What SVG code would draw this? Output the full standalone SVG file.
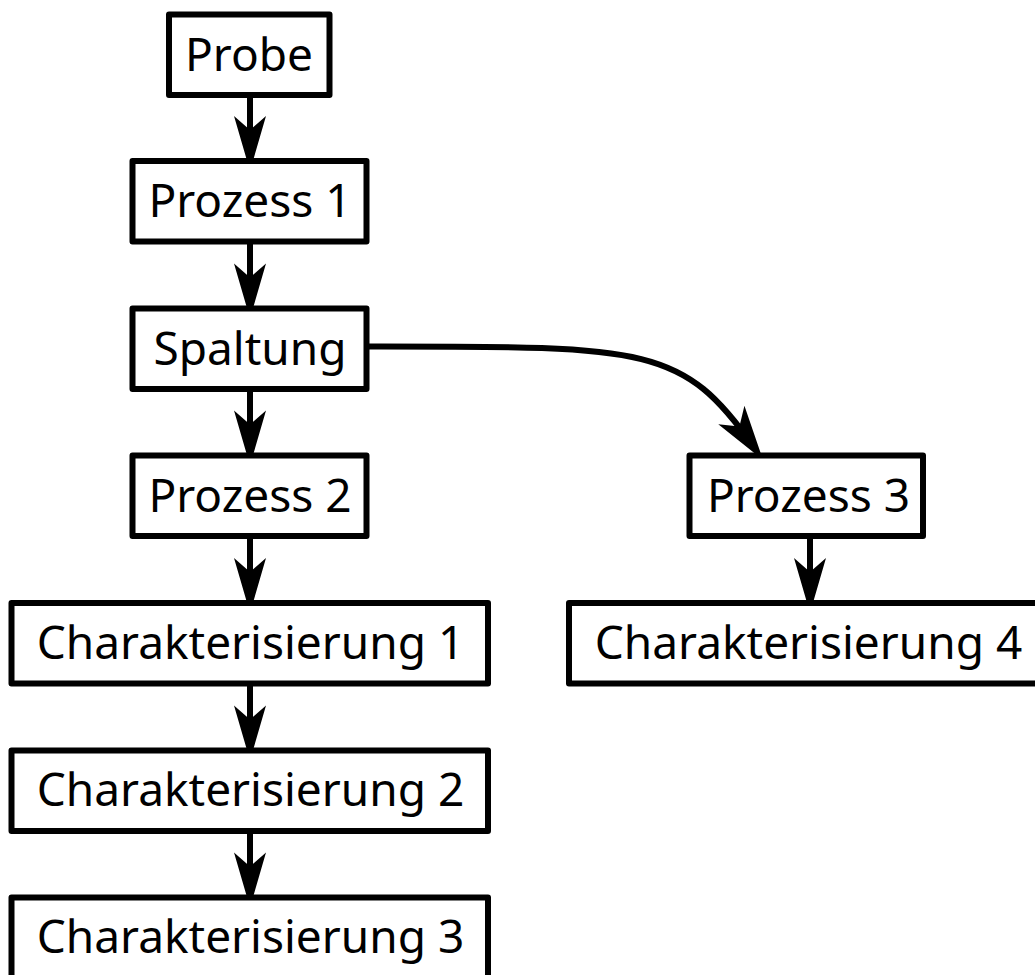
<svg xmlns="http://www.w3.org/2000/svg" width="1035" height="975" viewBox="0 0 1035 975">
<style>
.box{fill:#fff;stroke:#000;stroke-width:6;stroke-linejoin:round}
.lbl{font-family:"Noto Sans","Open Sans",sans-serif;font-size:46px;fill:#000;text-anchor:middle}
.edge{fill:none;stroke:#000;stroke-width:6;marker-end:url(#ah)}
</style>
<defs>
<marker id="ah" markerUnits="userSpaceOnUse" viewBox="0 -20 60 40" markerWidth="60" markerHeight="40" refX="40" refY="0" orient="auto" overflow="visible">
<path d="M55 0 L0 -16 L14 0 L0 16 Z" fill="#000"/>
</marker>
</defs>
<rect width="1035" height="975" fill="#fff"/>
<g id="connectors">
<path class="edge" d="M250 95 L250 156"/>
<path class="edge" d="M250 241.5 L250 303.5"/>
<path class="edge" d="M250 389 L250 450.5"/>
<path class="edge" d="M250 536 L250 598"/>
<path class="edge" d="M250 683.5 L250 745.5"/>
<path class="edge" d="M250 831 L250 892.5"/>
<path class="edge" d="M810 536 L810 598"/>
<path class="edge" d="M368 346.5 C648 346.5 682 345 754.4 447.7"/>
</g>
<g id="n-probe"><rect class="box" x="169" y="14.5" width="160.5" height="80.5"/><text class="lbl" x="249" y="71">Probe</text></g>
<g id="n-prozess1"><rect class="box" x="132.5" y="161" width="234" height="80.5"/><text class="lbl" x="250" y="217">Prozess 1</text></g>
<g id="n-spaltung"><rect class="box" x="132.5" y="308.5" width="234" height="80.5"/><text class="lbl" x="250" y="364.5">Spaltung</text></g>
<g id="n-prozess2"><rect class="box" x="132.5" y="455.5" width="234" height="80.5"/><text class="lbl" x="250" y="511.5">Prozess 2</text></g>
<g id="n-char1"><rect class="box" x="11.5" y="603" width="476.5" height="80.5"/><text class="lbl" x="250.5" y="658.5">Charakterisierung 1</text></g>
<g id="n-char2"><rect class="box" x="11.5" y="750.5" width="476.5" height="80.5"/><text class="lbl" x="250.5" y="806">Charakterisierung 2</text></g>
<g id="n-char3"><rect class="box" x="11.5" y="897.5" width="476.5" height="80.5"/><text class="lbl" x="250.5" y="953">Charakterisierung 3</text></g>
<g id="n-prozess3"><rect class="box" x="689.5" y="455.5" width="233.5" height="80.5"/><text class="lbl" x="808.5" y="511.5">Prozess 3</text></g>
<g id="n-char4"><rect class="box" x="569" y="603" width="482" height="80.5"/><text class="lbl" x="808.5" y="658.5">Charakterisierung 4</text></g>
</svg>
